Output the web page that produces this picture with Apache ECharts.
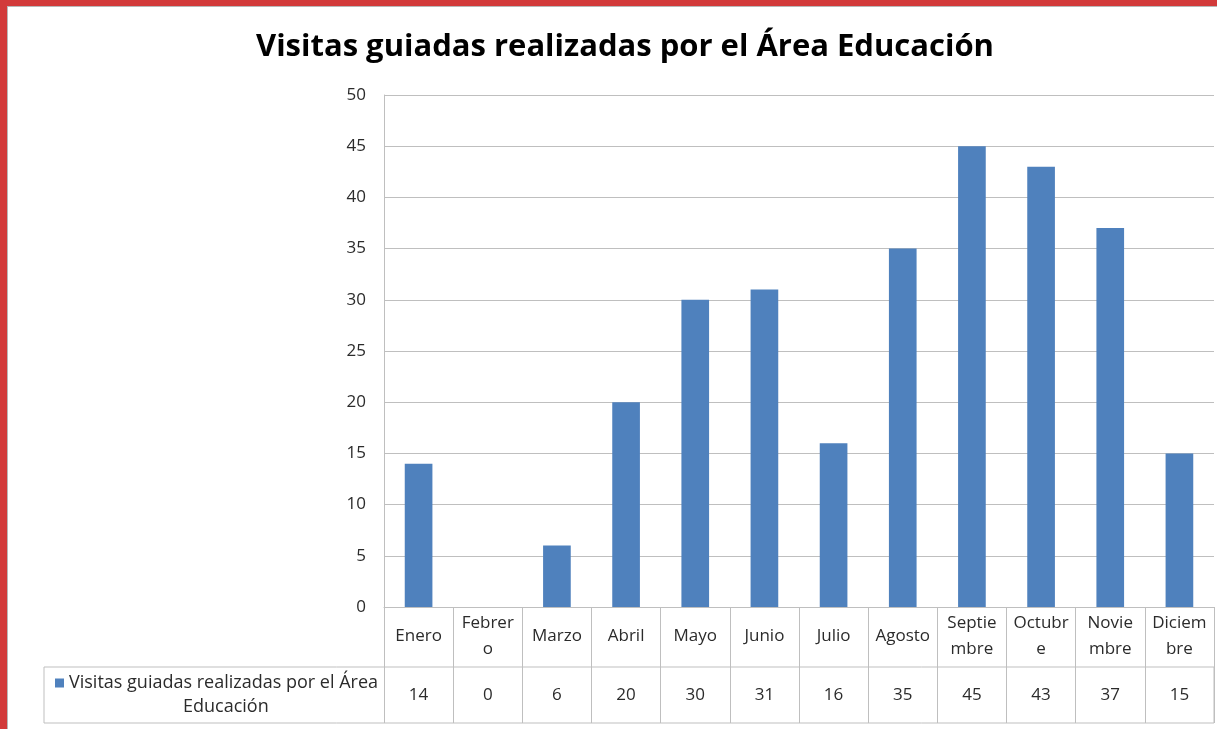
<!DOCTYPE html>
<html>
<head>
<meta charset="utf-8">
<script src="https://cdn.jsdelivr.net/npm/echarts@6/dist/echarts.min.js"></script>
<style>
  html, body { margin: 0; padding: 0; background: #fff; }
  #main { width: 1217px; height: 729px; }
  /* marco rojo de la captura */
  #frame {
    position: absolute; left: 0; top: 0; width: 1217px; height: 729px;
    box-sizing: border-box; border-top: 6px solid #d23a3a; border-left: 7px solid #d23a3a;
    pointer-events: none;
  }
  #frame div {
    position: absolute; left: 0; top: 0; right: 0; bottom: 0;
    border-top: 1px solid #b8b8b8; border-left: 1px solid #b8b8b8;
  }
</style>
</head>
<body>
<div id="main"></div>
<div id="frame"><div></div></div>
<script>
// datos
var titulo = 'Visitas guiadas realizadas por el Área Educación';
var serieNombre = 'Visitas guiadas realizadas por el Área Educación';
var meses = ['Enero', 'Febrer\no', 'Marzo', 'Abril', 'Mayo', 'Junio', 'Julio', 'Agosto',
  'Septie\nmbre', 'Octubr\ne', 'Novie\nmbre', 'Diciem\nbre'];
var visitas = [14, 0, 6, 20, 30, 31, 16, 35, 45, 43, 37, 15];
var yTicks = [0, 5, 10, 15, 20, 25, 30, 35, 40, 45, 50];

var fuente = 'Open Sans';
var gris = '#bfbfbf';
var texto = '#2b2b2b';

var chart = echarts.init(document.getElementById('main'));
var option = {
  animation: false,
  title: {
    text: titulo,
    left: 251,
    top: 27,
    textStyle: { fontFamily: fuente, fontSize: 31, fontWeight: 'bold', color: '#000' }
  },
  legend: {
    left: 50,
    top: 669,
    icon: 'rect',
    itemWidth: 9,
    itemHeight: 9,
    itemGap: 4,
    data: [serieNombre],
    formatter: function () {
      return '{a|Visitas guiadas realizadas por el Área}\n{b|Educación}';
    },
    textStyle: {
      fontFamily: fuente,
      fontSize: 18,
      color: texto,
      padding: [24, 0, 0, 0],
      rich: {
        a: { fontFamily: fuente, fontSize: 18, color: texto, lineHeight: 24 },
        b: { fontFamily: fuente, fontSize: 18, color: texto, lineHeight: 24, padding: [0, 0, 0, 114] }
      }
    }
  },
  grid: { left: 384, right: 3, top: 95, bottom: 122 },
  xAxis: [
    {
      type: 'category',
      data: meses,
      axisLine: { lineStyle: { color: gris } },
      axisTick: { show: true, length: 116, interval: 0, lineStyle: { color: gris } },
      axisLabel: {
        interval: 0,
        verticalAlign: 'middle',
        margin: 29,
        lineHeight: 26,
        fontFamily: fuente,
        fontSize: 17,
        color: texto
      }
    },
    {
      type: 'category',
      data: meses,
      position: 'bottom',
      axisLine: { show: false },
      axisTick: { show: false },
      axisLabel: {
        interval: 0,
        verticalAlign: 'middle',
        margin: 88,
        fontFamily: fuente,
        fontSize: 17,
        color: texto,
        formatter: function (v, i) { return String(visitas[i]); }
      }
    }
  ],
  yAxis: {
    type: 'value',
    min: yTicks[0],
    max: yTicks[yTicks.length - 1],
    interval: 5,
    axisLine: { show: true, lineStyle: { color: gris } },
    axisTick: { show: false },
    axisLabel: { margin: 18, fontFamily: fuente, fontSize: 17, color: texto },
    splitLine: { lineStyle: { color: gris } }
  },
  series: [
    {
      name: serieNombre,
      type: 'bar',
      data: visitas,
      barWidth: '40%',
      itemStyle: { color: '#4f81bd' }
    }
  ],
  graphic: [
    {
      type: 'rect',
      shape: { x: 44, y: 667, width: 1170, height: 56 },
      style: { fill: null, stroke: gris, lineWidth: 1 },
      z: 10
    }
  ]
};
chart.setOption(option);
</script>
</body>
</html>
